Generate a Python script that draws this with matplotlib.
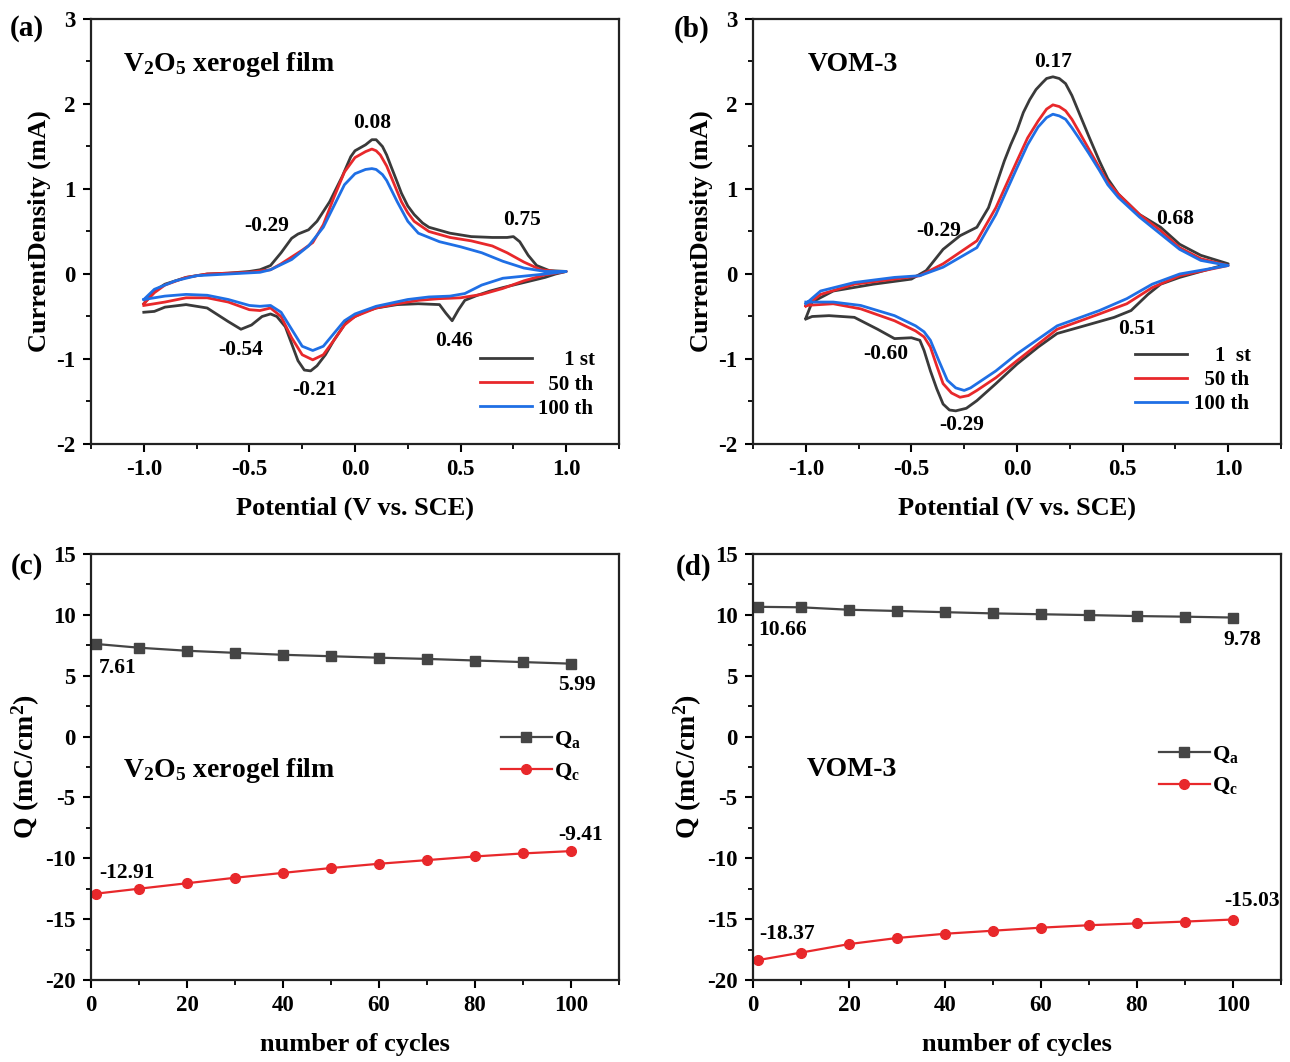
import matplotlib
matplotlib.use("Agg")
import matplotlib.pyplot as plt
from matplotlib.ticker import MultipleLocator

plt.rcParams['font.family'] = ['Liberation Serif', 'DejaVu Serif']
plt.rcParams['font.weight'] = 'bold'
plt.rcParams['axes.labelweight'] = 'bold'
plt.rcParams['axes.unicode_minus'] = False
plt.rcParams['mathtext.fontset'] = 'custom'
plt.rcParams['mathtext.rm'] = 'Liberation Serif:bold'
plt.rcParams['mathtext.bf'] = 'Liberation Serif:bold'
plt.rcParams['mathtext.it'] = 'Liberation Serif:bold:italic'

# ---- (a) V2O5 xerogel film, CV loops ----
a_1st_E = [-1.0, -0.95, -0.9, -0.8, -0.7, -0.6, -0.5, -0.45, -0.4, -0.35, -0.3, -0.27, -0.22, -0.18, -0.12,
           -0.06, -0.02, 0.0, 0.05, 0.08, 0.1, 0.13, 0.15, 0.17, 0.2, 0.22, 0.25, 0.28, 0.32, 0.35, 0.45,
           0.55, 0.65, 0.72, 0.75, 0.78, 0.82, 0.86, 0.92, 1.0,
           0.95, 0.9, 0.8, 0.7, 0.64, 0.58, 0.52, 0.49, 0.46, 0.43, 0.4, 0.3, 0.2, 0.1, 0.05, 0.0, -0.04,
           -0.1, -0.14, -0.18, -0.21, -0.24, -0.27, -0.3, -0.33, -0.37, -0.4, -0.44, -0.49, -0.54, -0.6,
           -0.7, -0.8, -0.9, -0.95, -1.0]
a_1st_I = [-0.35, -0.2, -0.12, -0.04, 0.0, 0.01, 0.03, 0.05, 0.1, 0.25, 0.42, 0.47, 0.52, 0.62, 0.85,
           1.15, 1.38, 1.45, 1.52, 1.58, 1.58, 1.5, 1.4, 1.27, 1.08, 0.95, 0.8, 0.7, 0.6, 0.55, 0.48,
           0.44, 0.43, 0.43, 0.44, 0.38, 0.22, 0.1, 0.04, 0.03,
           0.0, -0.04, -0.1, -0.16, -0.2, -0.25, -0.31, -0.42, -0.55, -0.46, -0.36, -0.35, -0.36, -0.4,
           -0.44, -0.5, -0.56, -0.78, -0.95, -1.08, -1.14, -1.13, -1.02, -0.82, -0.62, -0.5, -0.47, -0.5,
           -0.6, -0.65, -0.56, -0.4, -0.36, -0.39, -0.44, -0.45]

a_50th_E = [-1.0, -0.95, -0.9, -0.8, -0.7, -0.6, -0.5, -0.4, -0.35, -0.3, -0.25, -0.2, -0.15, -0.1, -0.05,
            0.0, 0.05, 0.08, 0.1, 0.12, 0.15, 0.17, 0.2, 0.22, 0.25, 0.28, 0.35, 0.45, 0.55, 0.65, 0.72,
            0.8, 0.88, 0.95, 1.0,
            0.9, 0.8, 0.7, 0.6, 0.5, 0.4, 0.3, 0.2, 0.1, 0.0, -0.05, -0.1, -0.15, -0.2, -0.25, -0.3,
            -0.35, -0.4, -0.45, -0.5, -0.6, -0.7, -0.8, -0.9, -1.0]
a_50th_I = [-0.35, -0.22, -0.13, -0.04, 0.0, 0.01, 0.02, 0.05, 0.12, 0.2, 0.28, 0.37, 0.58, 0.9, 1.2,
            1.37, 1.44, 1.47, 1.45, 1.4, 1.27, 1.15, 0.97, 0.85, 0.72, 0.62, 0.5, 0.43, 0.39, 0.33, 0.25,
            0.14, 0.05, 0.03, 0.03,
            -0.01, -0.08, -0.17, -0.24, -0.28, -0.29, -0.31, -0.35, -0.4, -0.5, -0.6, -0.78, -0.95, -1.01,
            -0.95, -0.75, -0.5, -0.4, -0.43, -0.42, -0.33, -0.28, -0.28, -0.33, -0.37]

a_100th_E = [-1.0, -0.95, -0.85, -0.75, -0.6, -0.45, -0.4, -0.3, -0.22, -0.15, -0.1, -0.05, 0.0, 0.05,
             0.08, 0.1, 0.13, 0.15, 0.18, 0.2, 0.25, 0.3, 0.4, 0.5, 0.6, 0.7, 0.8, 0.9, 1.0,
             0.9, 0.78, 0.7, 0.6, 0.52, 0.45, 0.35, 0.25, 0.1, 0.0, -0.05, -0.1, -0.15, -0.2, -0.25, -0.3,
             -0.35, -0.4, -0.45, -0.5, -0.6, -0.7, -0.8, -0.9, -1.0]
a_100th_I = [-0.3, -0.18, -0.08, -0.02, 0.0, 0.02, 0.05, 0.17, 0.33, 0.55, 0.8, 1.05, 1.18, 1.23,
             1.24, 1.23, 1.17, 1.1, 0.95, 0.85, 0.62, 0.48, 0.38, 0.32, 0.25, 0.15, 0.07, 0.03, 0.03,
             0.0, -0.03, -0.05, -0.13, -0.23, -0.26, -0.27, -0.3, -0.38, -0.47, -0.55, -0.7, -0.85, -0.9,
             -0.85, -0.65, -0.45, -0.37, -0.38, -0.37, -0.3, -0.25, -0.24, -0.26, -0.3]

# ---- (b) VOM-3, CV loops ----
b_1st_E = [-1.0, -0.97, -0.87, -0.68, -0.5, -0.43, -0.35, -0.27, -0.19, -0.135, -0.06, -0.03, 0.0, 0.03,
           0.06, 0.09, 0.12, 0.14, 0.17, 0.2, 0.23, 0.26, 0.29, 0.34, 0.39, 0.43, 0.48, 0.58, 0.68, 0.77,
           0.87, 1.0,
           0.77, 0.68, 0.62, 0.54, 0.46, 0.29, 0.19, 0.1, 0.0, -0.1, -0.19, -0.24, -0.29, -0.32, -0.35,
           -0.38, -0.41, -0.44, -0.46, -0.5, -0.58, -0.66, -0.77, -0.89, -0.97, -1.0]
b_1st_I = [-0.52, -0.33, -0.2, -0.12, -0.06, 0.04, 0.29, 0.45, 0.55, 0.78, 1.33, 1.52, 1.69, 1.9,
           2.05, 2.17, 2.25, 2.3, 2.32, 2.3, 2.24, 2.1, 1.92, 1.62, 1.33, 1.12, 0.94, 0.7, 0.55, 0.35,
           0.22, 0.12,
           -0.04, -0.12, -0.24, -0.43, -0.51, -0.63, -0.7, -0.86, -1.06, -1.29, -1.49, -1.58, -1.61, -1.6,
           -1.53, -1.35, -1.14, -0.9, -0.78, -0.75, -0.76, -0.65, -0.51, -0.49, -0.5, -0.53]

b_50th_E = [-1.0, -0.93, -0.77, -0.58, -0.46, -0.35, -0.19, -0.1, 0.0, 0.05, 0.1, 0.14, 0.17, 0.2, 0.23,
            0.26, 0.29, 0.34, 0.39, 0.43, 0.48, 0.58, 0.68, 0.77, 0.87, 1.0,
            0.77, 0.64, 0.52, 0.39, 0.19, 0.0, -0.1, -0.19, -0.23, -0.27, -0.31, -0.35, -0.38, -0.41,
            -0.44, -0.48, -0.58, -0.74, -0.87, -1.0]
b_50th_I = [-0.38, -0.24, -0.12, -0.06, -0.02, 0.12, 0.39, 0.78, 1.33, 1.6, 1.8, 1.94, 1.99, 1.97, 1.92,
            1.82, 1.69, 1.47, 1.25, 1.08, 0.94, 0.7, 0.51, 0.31, 0.18, 0.1,
            -0.02, -0.16, -0.35, -0.47, -0.65, -1.02, -1.22, -1.37, -1.43, -1.45, -1.4, -1.29, -1.08,
            -0.86, -0.74, -0.67, -0.55, -0.41, -0.35, -0.37]

b_100th_E = [-1.0, -0.93, -0.77, -0.58, -0.46, -0.35, -0.19, -0.1, 0.0, 0.05, 0.1, 0.14, 0.17, 0.2,
             0.23, 0.26, 0.29, 0.34, 0.39, 0.43, 0.48, 0.58, 0.68, 0.77, 0.87, 1.0,
             0.77, 0.64, 0.52, 0.39, 0.19, 0.0, -0.1, -0.19, -0.22, -0.25, -0.29, -0.33, -0.37, -0.41,
             -0.44, -0.48, -0.58, -0.74, -0.87, -1.0]
b_100th_I = [-0.35, -0.2, -0.1, -0.04, -0.02, 0.08, 0.31, 0.7, 1.25, 1.52, 1.73, 1.84, 1.88, 1.86,
             1.82, 1.72, 1.61, 1.42, 1.22, 1.05, 0.9, 0.67, 0.47, 0.29, 0.16, 0.1,
             0.0, -0.12, -0.29, -0.43, -0.61, -0.94, -1.14, -1.29, -1.34, -1.37, -1.34, -1.25, -1.02,
             -0.78, -0.68, -0.61, -0.49, -0.37, -0.33, -0.33]

# ---- (c), (d) charge vs cycles ----
cycles = [1, 10, 20, 30, 40, 50, 60, 70, 80, 90, 100]
c_Qa = [7.61, 7.3, 7.05, 6.88, 6.72, 6.6, 6.48, 6.38, 6.25, 6.12, 5.99]
c_Qc = [-12.91, -12.5, -12.05, -11.6, -11.2, -10.8, -10.45, -10.15, -9.85, -9.6, -9.41]
d_Qa = [10.66, 10.62, 10.42, 10.32, 10.22, 10.12, 10.05, 9.98, 9.9, 9.85, 9.78]
d_Qc = [-18.37, -17.75, -17.05, -16.55, -16.2, -15.95, -15.7, -15.5, -15.35, -15.2, -15.03]

cv_labels = ['     1 st', '  50 th', '100 th']
cv_labels_b = ['    1  st', '  50 th', '100 th']
BLACK, RED, BLUE = '#3a3a3a', '#e8282b', '#1f6fe5'

W, H = 1290, 1062
fig = plt.figure(figsize=(W / 100, H / 100), dpi=100)


def box(left, top, right, bottom):
    return [left / W, 1 - bottom / H, (right - left) / W, (bottom - top) / H]


ax_a = fig.add_axes(box(91, 19, 619, 444))
ax_b = fig.add_axes(box(753, 19, 1281, 444))
ax_c = fig.add_axes(box(91, 554, 619, 980))
ax_d = fig.add_axes(box(753, 554, 1281, 980))


def style(ax):
    for s in ax.spines.values():
        s.set_linewidth(1.6)
        s.set_color('#222222')
    ax.tick_params(which='major', direction='out', length=6, width=1.5, labelsize=16.5, pad=5)
    ax.tick_params(which='minor', direction='out', length=3.5, width=1.3)


for ax, loops, labels in [(ax_a, [(a_1st_E, a_1st_I), (a_50th_E, a_50th_I), (a_100th_E, a_100th_I)], cv_labels),
                          (ax_b, [(b_1st_E, b_1st_I), (b_50th_E, b_50th_I), (b_100th_E, b_100th_I)], cv_labels_b)]:
    for (E, I), col, lab in zip(loops, [BLACK, RED, BLUE], labels):
        ax.plot(E, I, color=col, lw=2.0, label=lab, solid_joinstyle='round')
    ax.set_xlim(-1.25, 1.25)
    ax.set_ylim(-2, 3)
    ax.xaxis.set_major_locator(MultipleLocator(0.5))
    ax.xaxis.set_minor_locator(MultipleLocator(0.25))
    ax.yaxis.set_major_locator(MultipleLocator(1))
    ax.yaxis.set_minor_locator(MultipleLocator(0.5))
    ax.set_xlabel('Potential (V vs. SCE)', fontsize=19, labelpad=12)
    ax.set_ylabel('CurrentDensity (mA)', fontsize=19, labelpad=4)
    style(ax)

ax_a.legend(loc='lower right', bbox_to_anchor=(0.975, 0.035), frameon=False, fontsize=15,
            handlelength=2.5, handletextpad=0.3, labelspacing=0.2, borderpad=0)
ax_b.legend(loc='lower right', bbox_to_anchor=(0.962, 0.045), frameon=False, fontsize=15,
            handlelength=2.5, handletextpad=0.3, labelspacing=0.2, borderpad=0)

ax_a.text(-1.1, 2.47, r'V$_{\mathbf{2}}$O$_{\mathbf{5}}$ xerogel film', fontsize=20, va='center', ha='left')
for x, y, s in [(0.08, 1.78, '0.08'), (-0.42, 0.57, '-0.29'), (0.79, 0.64, '0.75'),
                (-0.54, -0.9, '-0.54'), (-0.19, -1.37, '-0.21'), (0.47, -0.79, '0.46')]:
    ax_a.text(x, y, s, fontsize=15.5, ha='center', va='center')

ax_b.text(-0.99, 2.47, 'VOM-3', fontsize=20, va='center', ha='left')
for x, y, s in [(0.17, 2.49, '0.17'), (-0.37, 0.51, '-0.29'), (0.75, 0.65, '0.68'),
                (-0.62, -0.94, '-0.60'), (-0.26, -1.78, '-0.29'), (0.57, -0.65, '0.51')]:
    ax_b.text(x, y, s, fontsize=15.5, ha='center', va='center')

for ax, qa, qc in [(ax_c, c_Qa, c_Qc), (ax_d, d_Qa, d_Qc)]:
    ax.plot(cycles, qa, color='#454545', lw=1.6, marker='s', ms=7, label=r'Q$_{\mathbf{a}}$')
    ax.plot(cycles, qc, color=RED, lw=1.6, marker='o', ms=7, label=r'Q$_{\mathbf{c}}$')
    ax.set_xlim(0, 110)
    ax.set_ylim(-20, 15)
    ax.xaxis.set_major_locator(MultipleLocator(20))
    ax.xaxis.set_minor_locator(MultipleLocator(10))
    ax.yaxis.set_major_locator(MultipleLocator(5))
    ax.yaxis.set_minor_locator(MultipleLocator(2.5))
    ax.set_xlabel('number of cycles', fontsize=19, labelpad=12)
    ax.set_ylabel(r'Q (mC/cm$^{\mathbf{2}}$)', fontsize=20, labelpad=2)
    style(ax)

ax_c.legend(loc='upper left', bbox_to_anchor=(0.755, 0.615), frameon=False, fontsize=16,
            handlelength=2.3, handletextpad=0.1, labelspacing=0.5, borderpad=0)
ax_d.legend(loc='upper left', bbox_to_anchor=(0.747, 0.58), frameon=False, fontsize=16,
            handlelength=2.3, handletextpad=0.1, labelspacing=0.5, borderpad=0)

ax_c.text(6.6, -2.75, r'V$_{\mathbf{2}}$O$_{\mathbf{5}}$ xerogel film', fontsize=20, va='center', ha='left')
for x, y, s in [(5.5, 5.6, '7.61'), (101.3, 4.23, '5.99'), (7.5, -11.25, '-12.91'), (102, -8.1, '-9.41')]:
    ax_c.text(x, y, s, fontsize=15.5, ha='center', va='center')

ax_d.text(11.2, -2.7, 'VOM-3', fontsize=20, va='center', ha='left')
for x, y, s in [(6.1, 8.77, '10.66'), (102, 7.95, '9.78'), (7, -16.2, '-18.37'), (104, -13.5, '-15.03')]:
    ax_d.text(x, y, s, fontsize=15.5, ha='center', va='center')

for s, px, py in [('(a)', 27, 29), ('(b)', 692, 29), ('(c)', 27, 567), ('(d)', 694, 567)]:
    fig.text(px / W, 1 - py / H, s, fontsize=21, ha='center', va='center')

fig.savefig('out.png', dpi=100, facecolor='white')
